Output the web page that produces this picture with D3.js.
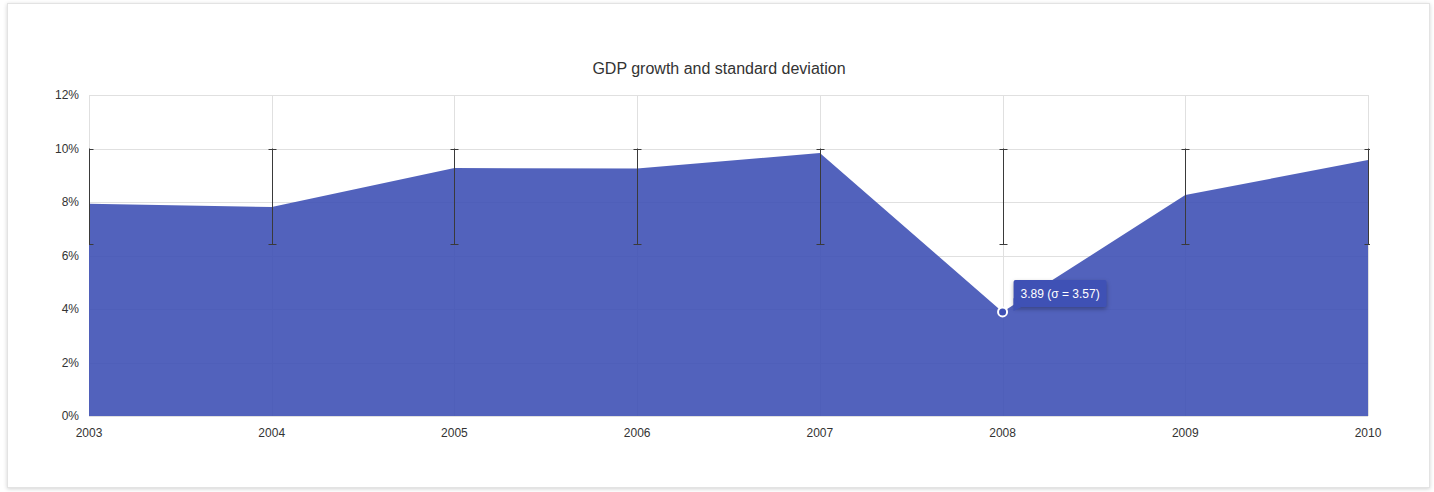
<!DOCTYPE html>
<html>
<head>
<meta charset="utf-8">
<script src="https://cdn.jsdelivr.net/npm/d3@7"></script>
<style>
    html, body { margin: 0; padding: 0; background: #ffffff; }
    #container { width: 1434px; height: 492px; position: relative; }
    .card {
        position: absolute; left: 7px; top: 3px; width: 1421px; height: 483px;
        background: #ffffff; border: 1px solid #e3e3e3;
        box-shadow: 0 1px 4px rgba(0, 0, 0, 0.18);
    }
    svg { position: absolute; left: 0; top: 0; }
</style>
</head>
<body>
<div id="container"><div class="card"></div></div>
<script>
const years = ['2003', '2004', '2005', '2006', '2007', '2008', '2009', '2010'];
const growth = [7.93, 7.81, 9.27, 9.25, 9.83, 3.89, 8.26, 9.57];
const errorLow = [6.42, 6.42, 6.42, 6.42, 6.42, 6.42, 6.42, 6.42];
const errorHigh = [10, 10, 10, 10, 10, 10, 10, 10];
const yTicks = [0, 2, 4, 6, 8, 10, 12];
const tooltipIndex = 5;
const tooltipText = '3.89 (σ = 3.57)';

const font = 'Arial, "Liberation Sans", sans-serif';

const svg = d3.select('#container')
    .append('svg')
    .attr('width', 1434)
    .attr('height', 492);

const x = d3.scalePoint()
    .domain(years)
    .range([89, 1368]);

const y = d3.scaleLinear()
    .domain([0, 12])
    .range([416, 95]);

// title
svg.append('text')
    .text('GDP growth and standard deviation')
    .attr('x', 719)
    .attr('y', 74)
    .attr('text-anchor', 'middle')
    .style('font-family', font)
    .style('font-size', '16px')
    .style('fill', '#333333');

// grid
const grid = svg.append('g');
yTicks.forEach(t => {
    grid.append('line')
        .attr('x1', x.range()[0]).attr('x2', x.range()[1])
        .attr('y1', Math.round(y(t)) + 0.5).attr('y2', Math.round(y(t)) + 0.5)
        .attr('stroke', '#e0e0e0');
});
years.forEach(yr => {
    grid.append('line')
        .attr('x1', Math.round(x(yr)) + 0.5).attr('x2', Math.round(x(yr)) + 0.5)
        .attr('y1', y(12)).attr('y2', y(0))
        .attr('stroke', '#e0e0e0');
});

// area
const data = years.map((yr, i) => ({ year: yr, value: growth[i], lo: errorLow[i], hi: errorHigh[i] }));
const area = d3.area()
    .x(d => x(d.year))
    .y0(y(0))
    .y1(d => y(d.value));
svg.append('path')
    .datum(data)
    .attr('d', area)
    .attr('fill', '#3F51B5')
    .attr('fill-opacity', 0.9);

// error bars (clipped to plot)
svg.append('defs').append('clipPath')
    .attr('id', 'plotClip')
    .append('rect')
    .attr('x', x.range()[0])
    .attr('y', y(12) - 5)
    .attr('width', x.range()[1] - x.range()[0] + 2)
    .attr('height', y(0) - y(12) + 10);
const errG = svg.append('g').attr('clip-path', 'url(#plotClip)');
data.forEach(d => {
    const cx = Math.round(x(d.year)) + 0.5;
    errG.append('line')
        .attr('x1', cx).attr('x2', cx)
        .attr('y1', y(d.hi)).attr('y2', y(d.lo))
        .attr('stroke', '#3a3a3a').attr('stroke-width', 1);
    [d.hi, d.lo].forEach(v => {
        errG.append('line')
            .attr('x1', cx - 4).attr('x2', cx + 4)
            .attr('y1', Math.round(y(v)) + 0.5).attr('y2', Math.round(y(v)) + 0.5)
            .attr('stroke', '#3a3a3a').attr('stroke-width', 1);
    });
});

// axes labels
yTicks.forEach(t => {
    svg.append('text')
        .text(t + '%')
        .attr('x', 79)
        .attr('y', y(t) + 4)
        .attr('text-anchor', 'end')
        .style('font-family', font)
        .style('font-size', '12px')
        .style('fill', '#333333');
});
years.forEach(yr => {
    svg.append('text')
        .text(yr)
        .attr('x', x(yr))
        .attr('y', 437)
        .attr('text-anchor', 'middle')
        .style('font-family', font)
        .style('font-size', '12px')
        .style('fill', '#333333');
});

// hover marker + tooltip
const tp = data[tooltipIndex];
svg.append('circle')
    .attr('cx', x(tp.year))
    .attr('cy', y(tp.value))
    .attr('r', 4.5)
    .attr('fill', '#3F51B5')
    .attr('stroke', '#ffffff')
    .attr('stroke-width', 2);

const tx = x(tp.year) + 11;
const ty = y(tp.value) - 32;
const tip = svg.append('g').attr('transform', `translate(${tx},${ty})`);
tip.append('rect')
    .attr('width', 93)
    .attr('height', 27)
    .attr('rx', 2)
    .attr('fill', '#3F51B5')
    .style('filter', 'drop-shadow(0 2px 2px rgba(0,0,0,0.3))');
tip.append('path')
    .attr('d', 'M0,18 L0,31 L8,27 Z')
    .attr('fill', '#3F51B5');
tip.append('text')
    .text(tooltipText)
    .attr('x', 7)
    .attr('y', 18)
    .style('font-family', font)
    .style('font-size', '12px')
    .style('fill', '#ffffff');
</script>
</body>
</html>
